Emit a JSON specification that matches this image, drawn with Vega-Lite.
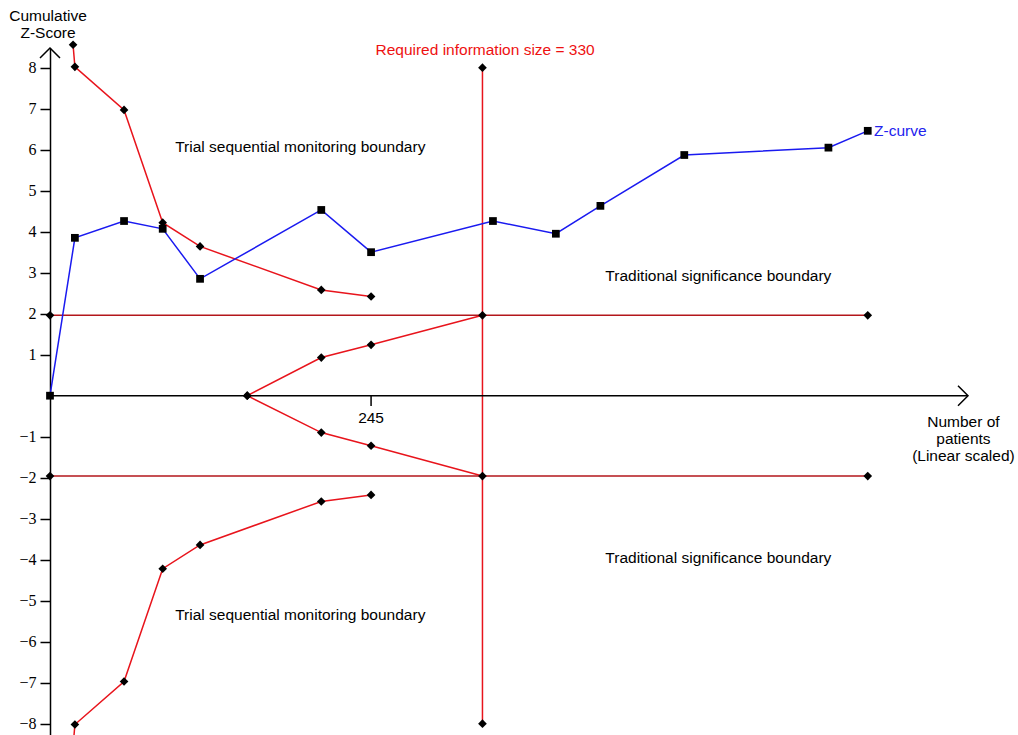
{
  "$schema": "https://vega.github.io/schema/vega-lite/v6.json",
  "width": 918,
  "height": 688,
  "autosize": {"type": "none"},
  "padding": {"left": 50, "top": 48, "right": 50, "bottom": 0},
  "background": "white",
  "config": {
    "view": {"stroke": null},
    "axisX": {"disable": true},
    "axisY": {"domainColor": "#000", "domainWidth": 1.5, "tickColor": "#000", "tickWidth": 1.5, "tickSize": 10, "labelFont": "Liberation Serif", "labelFontSize": 16, "labelColor": "#000", "labelPadding": 4, "grid": false},
    "text": {"font": "Liberation Sans", "fontSize": 15.5}
  },
  "datasets": {
    "series": [
      {"series": "Z-curve", "n": 0, "z": 0},
      {"series": "Z-curve", "n": 19, "z": 3.85},
      {"series": "Z-curve", "n": 56.5, "z": 4.26},
      {"series": "Z-curve", "n": 86, "z": 4.07},
      {"series": "Z-curve", "n": 114.5, "z": 2.85},
      {"series": "Z-curve", "n": 207, "z": 4.53},
      {"series": "Z-curve", "n": 245, "z": 3.5},
      {"series": "Z-curve", "n": 338, "z": 4.26},
      {"series": "Z-curve", "n": 386, "z": 3.95},
      {"series": "Z-curve", "n": 420, "z": 4.63},
      {"series": "Z-curve", "n": 484, "z": 5.87},
      {"series": "Z-curve", "n": 594, "z": 6.05},
      {"series": "Z-curve", "n": 624, "z": 6.46},
      {"series": "Upper monitoring", "n": 17.6, "z": 8.56},
      {"series": "Upper monitoring", "n": 19, "z": 8.02},
      {"series": "Upper monitoring", "n": 56.5, "z": 6.97},
      {"series": "Upper monitoring", "n": 86, "z": 4.22},
      {"series": "Upper monitoring", "n": 114.5, "z": 3.64},
      {"series": "Upper monitoring", "n": 207, "z": 2.58},
      {"series": "Upper monitoring", "n": 245, "z": 2.42},
      {"series": "Lower monitoring", "n": 17.6, "z": -8.56},
      {"series": "Lower monitoring", "n": 19, "z": -8.02},
      {"series": "Lower monitoring", "n": 56.5, "z": -6.97},
      {"series": "Lower monitoring", "n": 86, "z": -4.22},
      {"series": "Lower monitoring", "n": 114.5, "z": -3.64},
      {"series": "Lower monitoring", "n": 207, "z": -2.58},
      {"series": "Lower monitoring", "n": 245, "z": -2.42},
      {"series": "Upper futility", "n": 150.5, "z": 0},
      {"series": "Upper futility", "n": 207, "z": 0.93},
      {"series": "Upper futility", "n": 245, "z": 1.24},
      {"series": "Upper futility", "n": 330, "z": 1.96},
      {"series": "Lower futility", "n": 150.5, "z": 0},
      {"series": "Lower futility", "n": 207, "z": -0.9},
      {"series": "Lower futility", "n": 245, "z": -1.22},
      {"series": "Lower futility", "n": 330, "z": -1.96},
      {"series": "Upper significance", "n": 0, "z": 1.96},
      {"series": "Upper significance", "n": 624, "z": 1.96},
      {"series": "Lower significance", "n": 0, "z": -1.96},
      {"series": "Lower significance", "n": 624, "z": -1.96},
      {"series": "Required information size", "n": 330, "z": -8},
      {"series": "Required information size", "n": 330, "z": 8}
    ],
    "labels": [
      {"text": "Cumulative", "n": -1.5, "z": 9.14, "kind": "black"},
      {"text": "Z-Score", "n": -1.5, "z": 8.73, "kind": "black"},
      {"text": "Trial sequential monitoring boundary", "n": 191, "z": 5.95, "kind": "black"},
      {"text": "Trial sequential monitoring boundary", "n": 191, "z": -5.47, "kind": "black"},
      {"text": "Traditional significance boundary", "n": 510, "z": 2.8, "kind": "black"},
      {"text": "Traditional significance boundary", "n": 510, "z": -4.08, "kind": "black"},
      {"text": "Number of", "n": 697, "z": -0.76, "kind": "black"},
      {"text": "patients", "n": 697, "z": -1.18, "kind": "black"},
      {"text": "(Linear scaled)", "n": 697, "z": -1.59, "kind": "black"},
      {"text": "245", "n": 245, "z": -0.66, "kind": "black"},
      {"text": "Required information size = 330", "n": 332, "z": 8.31, "kind": "red"},
      {"text": "Z-curve", "n": 628.8, "z": 6.33, "kind": "blue"}
    ]
  },
  "layer": [
    {
      "data": {"name": "series"},
      "transform": [{"filter": "datum.series !== 'Z-curve'"}],
      "mark": {"type": "line", "strokeWidth": 1.5},
      "encoding": {
        "x": {"field": "n", "type": "quantitative", "scale": {"domain": [0, 700.5], "nice": false, "zero": false}, "title": null},
        "y": {"field": "z", "type": "quantitative", "scale": {"domain": [-8.3, 8.48], "nice": false, "zero": false}, "title": null, "axis": {"values": [-8, -7, -6, -5, -4, -3, -2, -1, 1, 2, 3, 4, 5, 6, 7, 8]}},
        "detail": {"field": "series"},
        "color": {"field": "series", "type": "nominal", "legend": null, "scale": {
          "domain": ["Upper monitoring", "Lower monitoring", "Upper futility", "Lower futility", "Upper significance", "Lower significance", "Required information size"],
          "range": ["#e8141c", "#e8141c", "#e8141c", "#e8141c", "#b3161b", "#b3161b", "#e8141c"]}}
      }
    },
    {
      "data": {"name": "series"},
      "transform": [{"filter": "datum.series === 'Z-curve'"}],
      "mark": {"type": "line", "strokeWidth": 1.5, "color": "#1a1af0"},
      "encoding": {
        "x": {"field": "n", "type": "quantitative", "title": null},
        "y": {"field": "z", "type": "quantitative", "title": null}
      }
    },
    {
      "data": {"name": "series"},
      "transform": [{"filter": "datum.series !== 'Z-curve'"}],
      "mark": {"type": "point", "shape": "diamond", "filled": true, "color": "#000", "size": 75, "opacity": 1},
      "encoding": {
        "x": {"field": "n", "type": "quantitative", "title": null},
        "y": {"field": "z", "type": "quantitative", "title": null}
      }
    },
    {
      "data": {"name": "series"},
      "transform": [{"filter": "datum.series === 'Z-curve'"}],
      "mark": {"type": "point", "shape": "square", "filled": true, "color": "#000", "size": 60, "opacity": 1},
      "encoding": {
        "x": {"field": "n", "type": "quantitative", "title": null},
        "y": {"field": "z", "type": "quantitative", "title": null}
      }
    },
    {
      "data": {"values": [{}]},
      "mark": {"type": "rule", "color": "#000", "strokeWidth": 1.5},
      "encoding": {
        "x": {"datum": 0, "type": "quantitative", "title": null},
        "x2": {"datum": 700.5},
        "y": {"datum": 0, "type": "quantitative", "title": null}
      }
    },
    {
      "data": {"values": [{}]},
      "mark": {"type": "rule", "color": "#000", "strokeWidth": 1.5},
      "encoding": {
        "x": {"datum": 245, "type": "quantitative", "title": null},
        "y": {"datum": 0, "type": "quantitative", "title": null},
        "y2": {"datum": -0.25}
      }
    },
    {
      "data": {"values": [{}]},
      "mark": {"type": "point", "shape": "M-1,1L0,0L1,1", "filled": false, "stroke": "#000", "strokeWidth": 1.5, "size": 400, "opacity": 1},
      "encoding": {
        "x": {"datum": 0, "type": "quantitative", "title": null},
        "y": {"datum": 8.48, "type": "quantitative", "title": null}
      }
    },
    {
      "data": {"values": [{}]},
      "mark": {"type": "point", "shape": "M-1,-1L0,0L-1,1", "filled": false, "stroke": "#000", "strokeWidth": 1.5, "size": 400, "opacity": 1},
      "encoding": {
        "x": {"datum": 700.5, "type": "quantitative", "title": null},
        "y": {"datum": 0, "type": "quantitative", "title": null}
      }
    },
    {
      "data": {"name": "labels"},
      "transform": [{"filter": "datum.kind === 'black'"}],
      "mark": {"type": "text", "align": "center", "baseline": "alphabetic", "color": "#000"},
      "encoding": {
        "x": {"field": "n", "type": "quantitative", "title": null},
        "y": {"field": "z", "type": "quantitative", "title": null},
        "text": {"field": "text"}
      }
    },
    {
      "data": {"name": "labels"},
      "transform": [{"filter": "datum.kind === 'red'"}],
      "mark": {"type": "text", "align": "center", "baseline": "alphabetic", "color": "#ee1111"},
      "encoding": {
        "x": {"field": "n", "type": "quantitative", "title": null},
        "y": {"field": "z", "type": "quantitative", "title": null},
        "text": {"field": "text"}
      }
    },
    {
      "data": {"name": "labels"},
      "transform": [{"filter": "datum.kind === 'blue'"}],
      "mark": {"type": "text", "align": "left", "baseline": "alphabetic", "color": "#2222ee"},
      "encoding": {
        "x": {"field": "n", "type": "quantitative", "title": null},
        "y": {"field": "z", "type": "quantitative", "title": null},
        "text": {"field": "text"}
      }
    }
  ]
}
